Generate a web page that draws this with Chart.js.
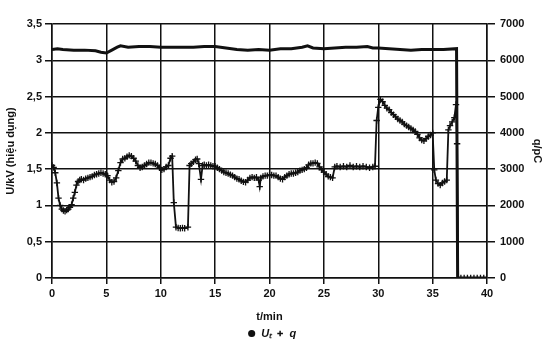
<!DOCTYPE html>
<html>
<head>
<meta charset="utf-8">
<script src="https://cdn.jsdelivr.net/npm/chart.js@4.4.1/dist/chart.umd.min.js"></script>
<style>
  html, body { margin: 0; padding: 0; background: #fff; }
  #wrap { width: 544px; height: 349px; }
</style>
</head>
<body>
<div id="wrap"><canvas id="chart" width="544" height="349"></canvas></div>
<script>
// time axis (min) and voltage U_t (kV, left axis)
var U_TIME = [0, 0.5, 1, 2, 3, 4, 4.5, 5, 5.5, 6, 6.3, 7, 8, 9, 10, 11, 12, 13, 14, 15, 16, 17, 18, 19, 20, 21, 22, 23, 23.5, 24, 25, 26, 27, 28, 29, 29.5, 30, 31, 32, 33, 34, 35, 36, 37.2, 37.3, 40];
var U_VALUES = [3.15, 3.16, 3.15, 3.14, 3.14, 3.13, 3.11, 3.10, 3.14, 3.18, 3.20, 3.18, 3.19, 3.19, 3.18, 3.18, 3.18, 3.18, 3.19, 3.19, 3.17, 3.15, 3.14, 3.15, 3.14, 3.16, 3.16, 3.18, 3.20, 3.17, 3.16, 3.17, 3.18, 3.18, 3.19, 3.17, 3.17, 3.16, 3.15, 3.14, 3.15, 3.15, 3.15, 3.16, 0, 0];

// partial discharge q (pC, right axis)
var Q_TIME = [0, 0.15, 0.3, 0.45, 0.6, 0.75, 0.9, 1.05, 1.2, 1.35, 1.5, 1.65, 1.8, 1.95, 2.1, 2.25, 2.4, 2.55, 2.7, 2.9,
  3.1, 3.3, 3.5, 3.7, 3.9, 4.1, 4.3, 4.5, 4.7, 4.9, 5.1, 5.3, 5.5, 5.7, 5.9, 6.1, 6.3, 6.5, 6.7, 6.9,
  7.1, 7.3, 7.5, 7.7, 7.9, 8.1, 8.3, 8.5, 8.7, 8.9, 9.1, 9.3, 9.5, 9.7, 9.9, 10.1, 10.3, 10.5, 10.7, 10.9,
  11.05, 11.2, 11.4, 11.6, 11.8, 12.0, 12.2, 12.5, 12.65, 12.8, 13.0, 13.2, 13.35, 13.5, 13.7, 13.85, 14.0, 14.2, 14.4, 14.6,
  14.8, 15.0, 15.2, 15.4, 15.6, 15.8, 16.0, 16.2, 16.4, 16.6, 16.8, 17.0, 17.2, 17.4, 17.6, 17.8, 18.0, 18.2, 18.4, 18.6,
  18.8, 19.0, 19.1, 19.2, 19.4, 19.6, 19.8, 20.0, 20.2, 20.4, 20.6, 20.8, 21.0, 21.2, 21.4, 21.6, 21.8, 22.0, 22.2, 22.4,
  22.6, 22.8, 23.0, 23.2, 23.4, 23.6, 23.8, 24.0, 24.2, 24.4, 24.6, 24.8, 25.0, 25.2, 25.4, 25.6, 25.8, 26.0, 26.2, 26.5,
  26.8, 27.1, 27.4, 27.7, 28.0, 28.3, 28.6, 28.9, 29.2, 29.5, 29.7, 29.85, 30.0, 30.2, 30.4, 30.6, 30.8, 31.0, 31.2, 31.4,
  31.6, 31.8, 32.0, 32.2, 32.4, 32.6, 32.8, 33.0, 33.2, 33.4, 33.6, 33.8, 34.0, 34.2, 34.4, 34.6, 34.8, 35.0, 35.15, 35.3,
  35.5, 35.7, 35.9, 36.1, 36.3, 36.45, 36.6, 36.8, 37.0, 37.15, 37.25, 37.35, 37.6, 37.9, 38.2, 38.5, 38.8, 39.1, 39.4, 39.7, 40];
var Q_VALUES = [3100, 3050, 2900, 2620, 2200, 2000, 1900, 1860, 1840, 1870, 1900, 1950, 2020, 2200, 2360, 2560, 2660, 2700, 2720, 2700,
  2740, 2760, 2780, 2800, 2840, 2860, 2880, 2900, 2880, 2860, 2820, 2700, 2640, 2660, 2760, 2960, 3180, 3280, 3300, 3340,
  3380, 3360, 3300, 3220, 3100, 3040, 3060, 3100, 3140, 3180, 3180, 3160, 3140, 3100, 3040, 2980, 3000, 3060, 3100, 3300,
  3360, 2080, 1400, 1380, 1370, 1380, 1370, 1400, 3100, 3150, 3200, 3260, 3280, 3150, 2720, 3100, 3120, 3100, 3120, 3100,
  3080, 3080, 3040, 3000, 2960, 2920, 2900, 2880, 2850, 2820, 2780, 2740, 2720, 2680, 2650, 2640, 2700, 2760, 2780, 2760,
  2780, 2700, 2520, 2760, 2800, 2820, 2820, 2840, 2840, 2820, 2820, 2780, 2740, 2720, 2780, 2820, 2860, 2880, 2880, 2900,
  2920, 2960, 2980, 3000, 3040, 3120, 3160, 3160, 3180, 3160, 3060, 2980, 2920, 2860, 2800, 2780, 2760, 3060, 3080, 3060,
  3080, 3060, 3100, 3060, 3080, 3060, 3080, 3060, 3040, 3060, 3080, 4340, 4700, 4920, 4860, 4760, 4680, 4640, 4560, 4500,
  4440, 4380, 4340, 4300, 4240, 4200, 4160, 4120, 4080, 4040, 3960, 3860, 3800, 3780, 3840, 3900, 3940, 4000, 2980, 2700,
  2600, 2560, 2620, 2660, 2700, 4080, 4200, 4300, 4420, 4780, 3700, 0, 0, 0, 0, 0, 0, 0, 0, 0, 0];

var U_TICKS = [0, 0.5, 1, 1.5, 2, 2.5, 3, 3.5];

function points(xs, ys) {
  return xs.map(function (x, i) { return { x: x, y: ys[i] }; });
}

var INK = "#111";
var TICK_FONT = { family: "'Liberation Sans', Arial, sans-serif", size: 11, weight: "bold" };

new Chart(document.getElementById("chart").getContext("2d"), {
  type: "line",
  data: {
    datasets: [
      {
        label: "U\u209C",
        data: points(U_TIME, U_VALUES),
        yAxisID: "y",
        borderColor: INK,
        backgroundColor: INK,
        borderWidth: 3,
        pointRadius: 0,
        tension: 0
      },
      {
        label: "q",
        data: points(Q_TIME, Q_VALUES),
        yAxisID: "y1",
        borderColor: INK,
        backgroundColor: INK,
        borderWidth: 1.8,
        pointStyle: "cross",
        pointRadius: 3.2,
        pointBorderWidth: 1.3,
        tension: 0
      }
    ]
  },
  options: {
    responsive: false,
    animation: false,
    layout: { padding: { top: 24, bottom: 0, left: 0, right: 0 } },
    plugins: {
      tooltip: { enabled: false },
      legend: {
        position: "bottom",
        labels: {
          color: INK,
          font: { family: "'Liberation Sans', Arial, sans-serif", size: 11, weight: "bold", style: "italic" },
          usePointStyle: true,
          boxWidth: 8,
          boxHeight: 4,
          padding: 4,
          generateLabels: function (chart) {
            return chart.data.datasets.map(function (ds, i) {
              return {
                text: ds.label,
                datasetIndex: i,
                pointStyle: i === 0 ? "circle" : "cross",
                fillStyle: INK,
                strokeStyle: INK,
                lineWidth: 1.5,
                fontColor: INK
              };
            });
          }
        }
      }
    },
    scales: {
      x: {
        type: "linear",
        min: 0,
        max: 40,
        ticks: { stepSize: 5, color: INK, font: TICK_FONT, padding: 3, maxRotation: 0 },
        grid: { color: INK, lineWidth: 1.5, tickLength: 6 },
        border: { color: INK, width: 1.5 },
        title: { display: true, text: "t/min", color: INK, font: TICK_FONT, padding: { top: 8, bottom: 0 } },
        afterFit: function (s) { s.height = 46; }
      },
      y: {
        position: "left",
        min: 0,
        max: 3.5,
        afterBuildTicks: function (s) { s.ticks = U_TICKS.map(function (v) { return { value: v }; }); },
        ticks: {
          color: INK,
          font: TICK_FONT,
          padding: 3,
          callback: function (v) { return String(v).replace(".", ","); }
        },
        grid: { color: INK, lineWidth: 1.5, tickLength: 7 },
        border: { color: INK, width: 1.5 },
        title: { display: true, text: "U/kV (hiệu dụng)", color: INK, font: TICK_FONT, padding: { top: 4, bottom: 0 } },
        afterFit: function (s) { s.width = 52; }
      },
      y1: {
        position: "right",
        min: 0,
        max: 7000,
        ticks: {
          stepSize: 1000,
          color: INK,
          font: TICK_FONT,
          padding: 5,
          callback: function (v) { return String(v); }
        },
        grid: { drawOnChartArea: false, color: INK, lineWidth: 1.5, tickLength: 8 },
        border: { color: INK, width: 1.5 },
        title: { display: true, text: "q/pC", color: INK, font: TICK_FONT, padding: { top: 0, bottom: 3 } },
        afterFit: function (s) { s.width = 57; }
      }
    }
  }
});
</script>
</body>
</html>
